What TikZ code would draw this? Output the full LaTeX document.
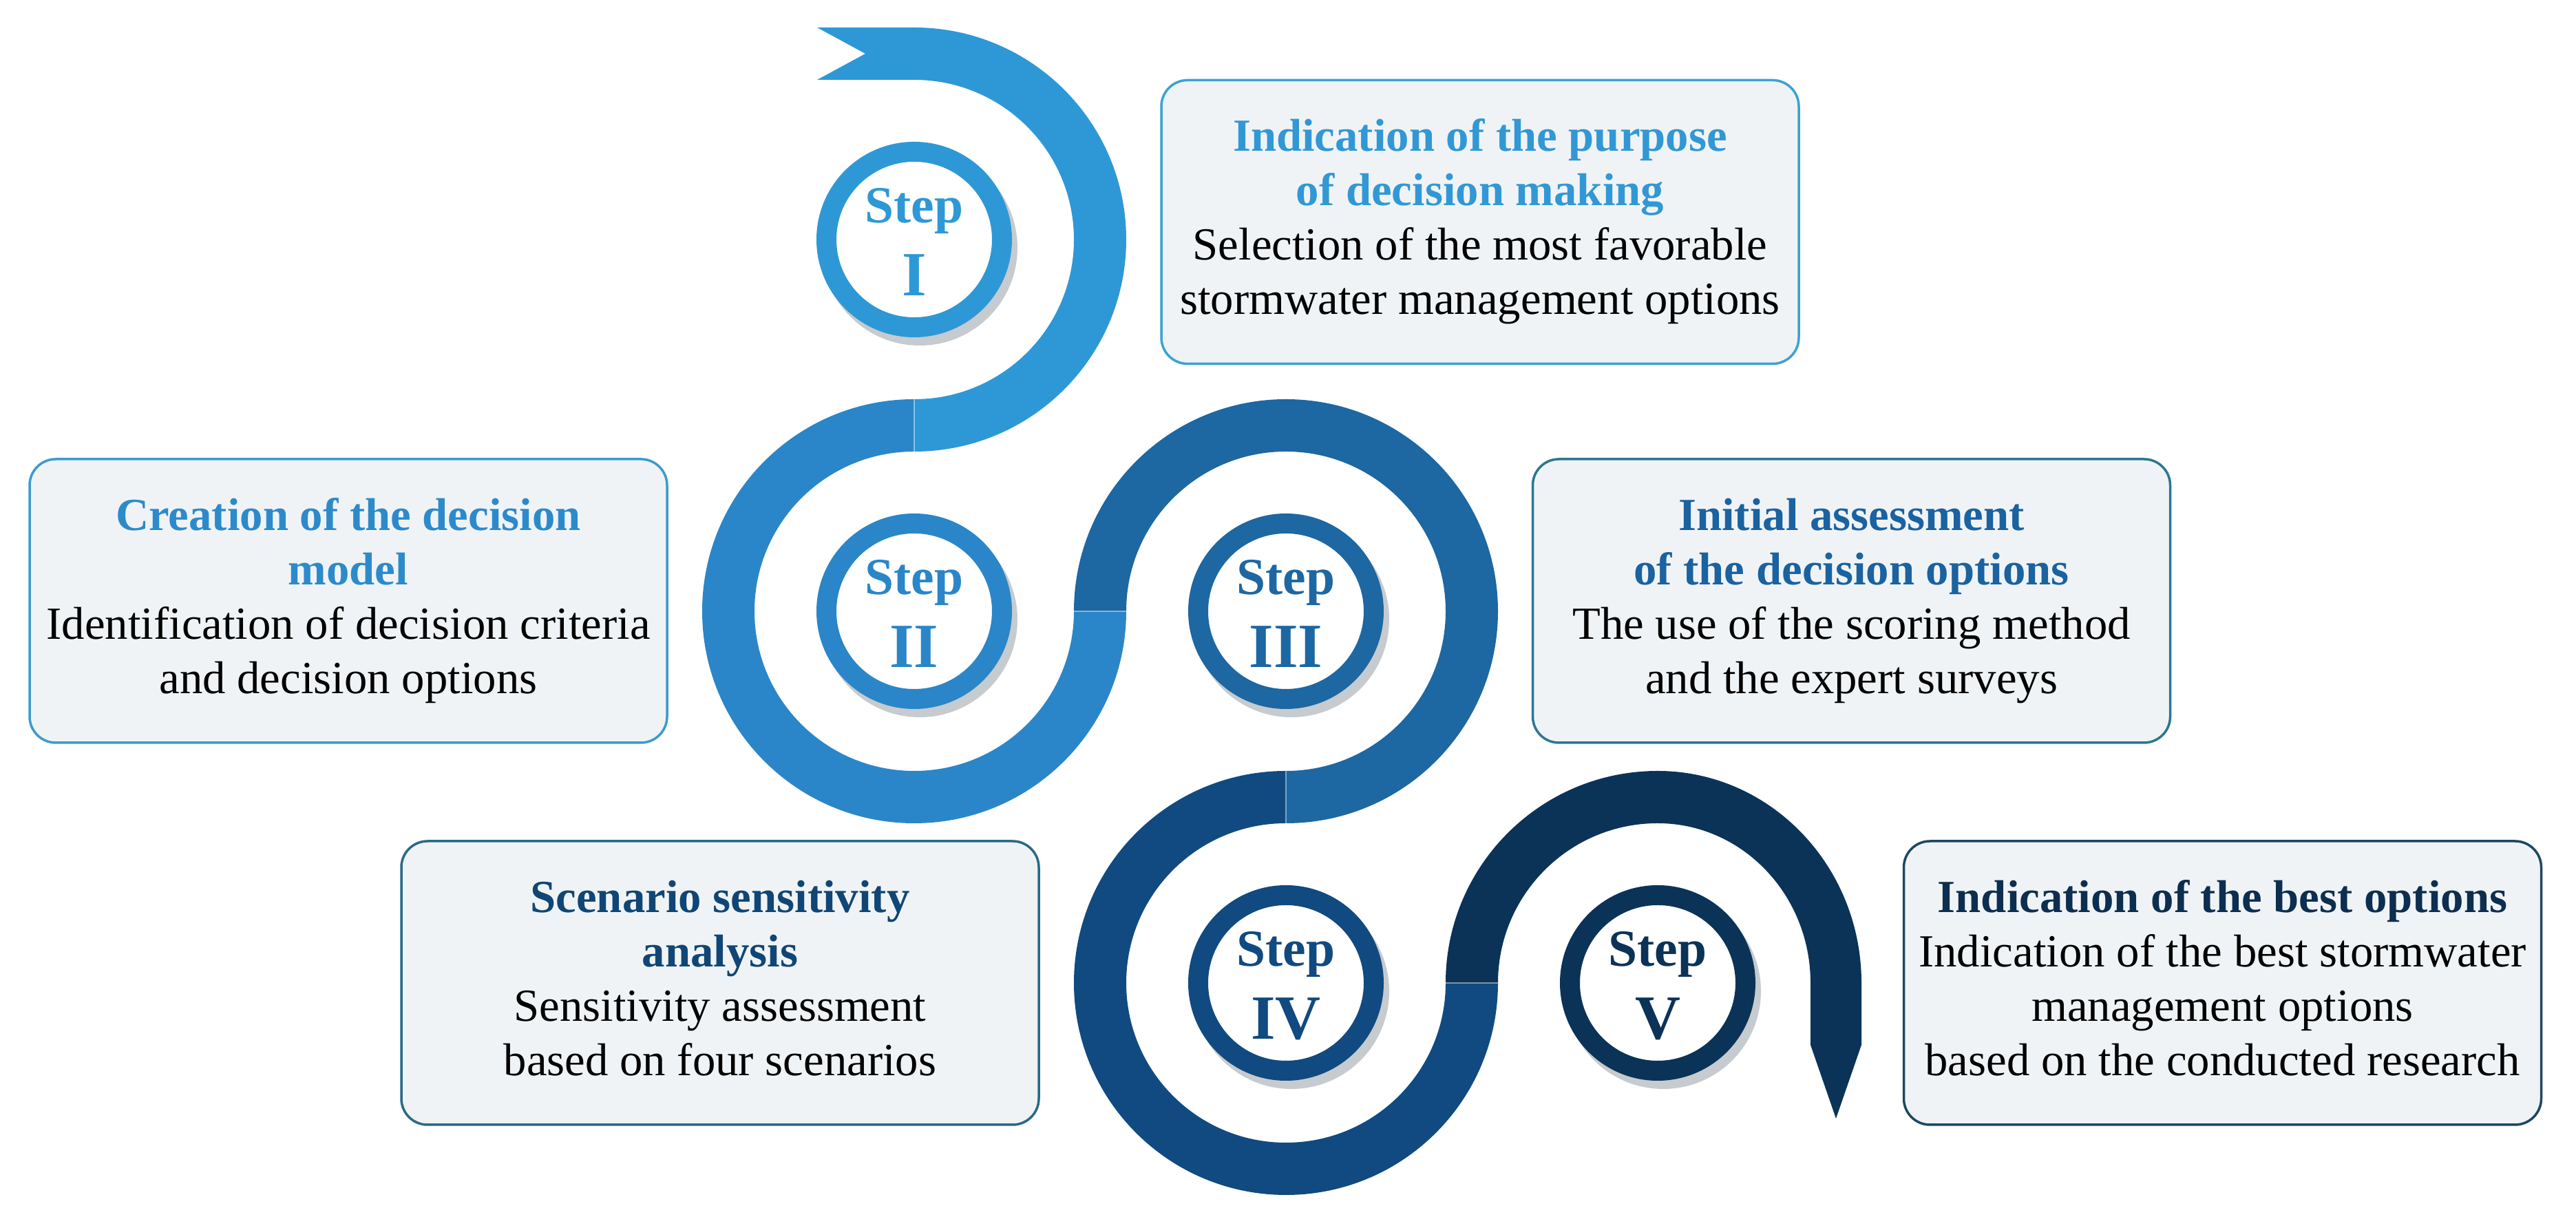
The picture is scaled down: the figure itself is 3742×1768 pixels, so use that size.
\documentclass[tikz,border=0pt]{standalone}
\usepackage{fontspec}
\setmainfont{Liberation Serif}
\usetikzlibrary{calc}
\definecolor{cA}{HTML}{2E98D6}
\definecolor{cB}{HTML}{2A86C8}
\definecolor{cC}{HTML}{1D67A2}
\definecolor{cD}{HTML}{104A80}
\definecolor{cE}{HTML}{0B3357}
\definecolor{tA}{HTML}{3198D5}
\definecolor{tB}{HTML}{2C8ACB}
\definecolor{tC}{HTML}{1A62A0}
\definecolor{tD}{HTML}{0F4675}
\definecolor{tE}{HTML}{0C2E50}
\definecolor{bA}{HTML}{3CA2D2}
\definecolor{bB}{HTML}{3B9BCF}
\definecolor{bC}{HTML}{2B7891}
\definecolor{bD}{HTML}{2A6A85}
\definecolor{bE}{HTML}{1C4863}
\definecolor{boxfill}{HTML}{F0F3F5}
\definecolor{shadowgrey}{HTML}{C6CBCF}
\tikzset{
  infobox/.style={draw, line width=0.35mm, rounded corners=3.8mm, fill=boxfill,
    minimum width=92.6mm, minimum height=41.2mm, inner sep=0pt, align=center,
    font=\fontsize{19pt}{22.5pt}\selectfont},
  stepring/.style={circle, line width=2.9mm, fill=white, minimum size=25.5mm, inner sep=0pt},
  steplbl/.style={anchor=base, inner sep=0pt, font=\fontsize{21.5pt}{24pt}\selectfont\bfseries},
  stepnum/.style={anchor=base, inner sep=0pt, font=\fontsize{26pt}{30pt}\selectfont\bfseries},
  seamline/.style={draw=white, opacity=0.45, line width=0.25mm},
}
\begin{document}
\begin{tikzpicture}[x=0.1mm,y=0.1mm]
\fill[white] (0,0) rectangle (3742,1768);
\useasboundingbox (0,0) rectangle (3742,1768);
% centres
\coordinate (c1) at (1328,1420);
\coordinate (c2) at (1328,880);
\coordinate (c3) at (1868,880);
\coordinate (c4) at (1868,340);
\coordinate (c5) at (2408,340);
% ribbon segments
\fill[cA] (1187,1728) -- (1328,1728) arc[start angle=90, end angle=-90, radius=308]
  -- (1328,1188) arc[start angle=-90, end angle=90, radius=232]
  -- (1187,1652) -- (1257,1690) -- cycle;
\fill[cB] (1328,1188) arc[start angle=90, end angle=360, radius=308]
  -- (1560,880) arc[start angle=360, end angle=90, radius=232] -- cycle;
\fill[cC] (1560,880) arc[start angle=180, end angle=-90, radius=308]
  -- (1868,648) arc[start angle=-90, end angle=180, radius=232] -- cycle;
\fill[cD] (1868,648) arc[start angle=90, end angle=360, radius=308]
  -- (2100,340) arc[start angle=360, end angle=90, radius=232] -- cycle;
\fill[cE] (2100,340) arc[start angle=180, end angle=90, radius=308]
  arc[start angle=90, end angle=0, x radius=296, y radius=308]
  -- (2704,250) -- (2667,143) -- (2630,250) -- (2630,340)
  arc[start angle=0, end angle=90, x radius=222, y radius=232]
  arc[start angle=90, end angle=180, radius=232] -- cycle;
% seams
\coordinate (sa1) at (1328,1112); \coordinate (sa2) at (1328,1188);
\coordinate (sb1) at (1560,880);  \coordinate (sb2) at (1636,880);
\coordinate (sc1) at (1868,572);  \coordinate (sc2) at (1868,648);
\coordinate (sd1) at (2100,340);  \coordinate (sd2) at (2176,340);
\draw[seamline] (sa1) -- (sa2);
\draw[seamline] (sb1) -- (sb2);
\draw[seamline] (sc1) -- (sc2);
\draw[seamline] (sd1) -- (sd2);
% step circles
\foreach \c/\col/\num in {c1/cA/I, c2/cB/II, c3/cC/III, c4/cD/IV, c5/cE/V}{
  \fill[shadowgrey] ($(\c)+(8,-12)$) circle[radius=142];
  \node[stepring, draw=\col] (ring\num) at (\c) {};
  \node[steplbl, text=\col] (lbl\num) at ($(\c)+(0,24)$) {Step};
  \node[stepnum, text=\col] (num\num) at ($(\c)+(0,-82)$) {\num};
}
% boxes
\node[infobox, draw=bA] (boxA) at (2150,1445.5) {%
  \strut\textcolor{tA}{\bfseries Indication of the purpose}\\
  \textcolor{tA}{\bfseries of decision making}\\
  Selection of the most favorable\\
  stormwater management options\strut};
\node[infobox, draw=bB] (boxB) at (506,895) {%
  \strut\textcolor{tB}{\bfseries Creation of the decision}\\
  \textcolor{tB}{\bfseries model}\\
  Identification of decision criteria\\
  and decision options\strut};
\node[infobox, draw=bC] (boxC) at (2689.5,895) {%
  \strut\textcolor{tC}{\bfseries Initial assessment}\\
  \textcolor{tC}{\bfseries of the decision options}\\
  The use of the scoring method\\
  and the expert surveys\strut};
\node[infobox, draw=bD] (boxD) at (1046,340) {%
  \strut\textcolor{tD}{\bfseries Scenario sensitivity}\\
  \textcolor{tD}{\bfseries analysis}\\
  Sensitivity assessment\\
  based on four scenarios\strut};
\node[infobox, draw=bE] (boxE) at (3228.5,340) {%
  \strut\textcolor{tE}{\bfseries Indication of the best options}\\
  Indication of the best stormwater\\
  management options\\
  based on the conducted research\strut};
\end{tikzpicture}
\end{document}
